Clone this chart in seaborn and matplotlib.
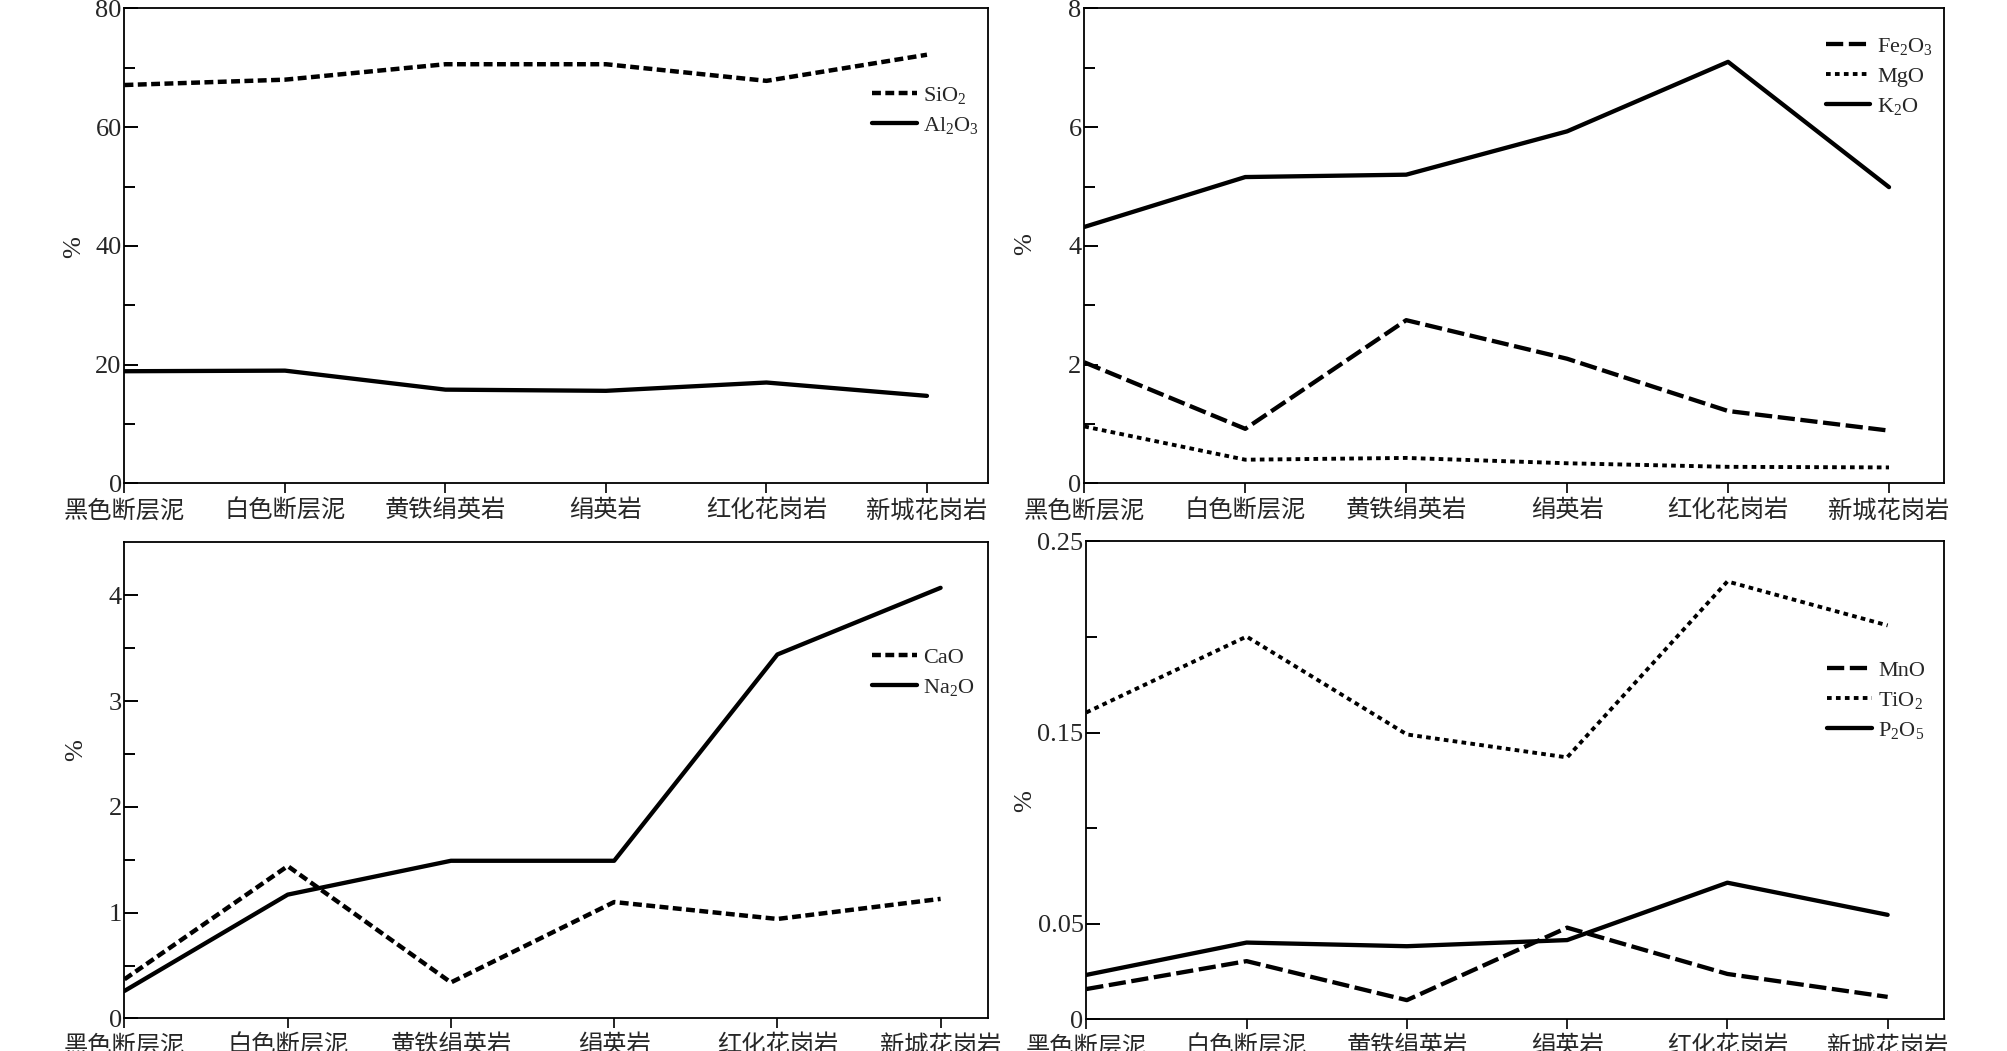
import matplotlib
matplotlib.use("Agg")
import matplotlib.pyplot as plt
import seaborn as sns
import pandas as pd
from matplotlib.ticker import FixedLocator

# ---------------- data ----------------
categories = ["黑色断层泥", "白色断层泥", "黄铁绢英岩", "绢英岩", "红化花岗岩", "新城花岗岩"]

sio2 = [67.1, 68.0, 70.6, 70.6, 67.8, 72.2]
al2o3 = [18.9, 19.0, 15.8, 15.6, 17.0, 14.75]

fe2o3 = [2.04, 0.92, 2.75, 2.10, 1.22, 0.89]
mgo = [0.96, 0.40, 0.43, 0.34, 0.28, 0.27]
k2o = [4.32, 5.16, 5.20, 5.93, 7.10, 4.99]

cao = [0.37, 1.44, 0.34, 1.10, 0.94, 1.13]
na2o = [0.26, 1.17, 1.49, 1.49, 3.44, 4.07]

mno = [0.0159, 0.0305, 0.0101, 0.048, 0.0238, 0.0118]
tio2 = [0.1605, 0.2002, 0.149, 0.137, 0.229, 0.206]
p2o5 = [0.0233, 0.0402, 0.0383, 0.0415, 0.0715, 0.0547]

tl_yticks = [0, 20, 40, 60, 80]
tl_yticklabels = ["0", "20", "40", "60", "80"]
tr_yticks = [0, 2, 4, 6, 8]
tr_yticklabels = ["0", "2", "4", "6", "8"]
bl_yticks = [0, 1, 2, 3, 4]
bl_yticklabels = ["0", "1", "2", "3", "4"]
br_yticks = [0, 0.05, 0.15, 0.25]
br_yticklabels = ["0", "0.05", "0.15", "0.25"]
ylabel = "%"

# ---------------- style ----------------
sns.set_theme(style="ticks")
plt.rcParams["font.family"] = ["Liberation Serif", "Noto Sans CJK SC", "DejaVu Sans"]
plt.rcParams["mathtext.fontset"] = "custom"
plt.rcParams["mathtext.rm"] = "Liberation Serif"
plt.rcParams["mathtext.it"] = "Liberation Serif"
plt.rcParams["mathtext.default"] = "rm"

fig = plt.figure(figsize=(20.08, 10.51), dpi=100)
fig.patch.set_facecolor("white")

LW = 3.1
SQ_DOT = (0, (2.0, 1.0))      # SiO2 / CaO short square dashes
FINE_DOT = (0, (1.2, 1.1))    # MgO / TiO2 fine dots
LONG_DASH = (0, (4.0, 1.3))   # Fe2O3 / MnO long dashes
SOLID = "-"

panels = [
    dict(rect=[0.062, 0.540, 0.430, 0.452], xmax=5.38, ylim=(0, 80),
         yticks=tl_yticks, ylabels=tl_yticklabels, minor=[10, 30, 50, 70],
         series=[("SiO$_2$", sio2, SQ_DOT, 3.2), ("Al$_2$O$_3$", al2o3, SOLID, LW)],
         leg=(0.866, 0.785), ylab=(-0.046, 0.497)),
    dict(rect=[0.540, 0.540, 0.428, 0.452], xmax=5.34, ylim=(0, 8),
         yticks=tr_yticks, ylabels=tr_yticklabels, minor=[1, 3, 5, 7],
         series=[("Fe$_2$O$_3$", fe2o3, LONG_DASH, LW), ("MgO", mgo, FINE_DOT, 2.8),
                 ("K$_2$O", k2o, SOLID, LW)],
         leg=(0.863, 0.857), ylab=(-0.056, 0.503)),
    dict(rect=[0.062, 0.031, 0.430, 0.453], xmax=5.29, ylim=(0, 4.5),
         yticks=bl_yticks, ylabels=bl_yticklabels, minor=[0.5, 1.5, 2.5, 3.5],
         series=[("CaO", cao, SQ_DOT, 3.2), ("Na$_2$O", na2o, SOLID, LW)],
         leg=(0.866, 0.727), ylab=(-0.043, 0.563)),
    dict(rect=[0.541, 0.030, 0.427, 0.455], xmax=5.35, ylim=(0, 0.25),
         yticks=br_yticks, ylabels=br_yticklabels, minor=[0.1, 0.2],
         series=[("MnO", mno, LONG_DASH, LW), ("TiO$_2$", tio2, FINE_DOT, 2.8),
                 ("P$_2$O$_5$", p2o5, SOLID, LW)],
         leg=(0.864, 0.667), ylab=(-0.058, 0.456)),
]

for p in panels:
    ax = fig.add_axes(p["rect"])
    ax.set_facecolor("white")
    for name, vals, ls, lw in p["series"]:
        df = pd.DataFrame({"x": categories, "y": vals})
        sns.lineplot(data=df, x="x", y="y", ax=ax, color="black",
                     linestyle=ls, linewidth=lw, label=name, sort=False)
    ax.set_xlim(0, p["xmax"])
    ax.set_ylim(*p["ylim"])
    ax.set_xticks(range(len(categories)))
    ax.set_xticklabels(categories, fontsize=17.5, family=["Noto Sans CJK SC"])
    ax.set_yticks(p["yticks"])
    ax.set_yticklabels(p["ylabels"], fontsize=19)
    ax.yaxis.set_minor_locator(FixedLocator(p["minor"]))
    ax.tick_params(axis="x", direction="out", length=7, width=1.2, pad=3, color="black")
    ax.tick_params(axis="y", which="major", direction="in", length=10, width=1.4, pad=2, color="black")
    ax.tick_params(axis="y", which="minor", direction="in", length=8, width=1.4, color="black")
    ax.tick_params(axis="x", which="minor", bottom=False)
    for s in ax.spines.values():
        s.set_visible(True)
        s.set_color("black")
        s.set_linewidth(1.3)
    ax.set_xlabel("")
    ax.set_ylabel(ylabel, fontsize=19)
    ax.yaxis.set_label_coords(*p["ylab"])
    ax.legend(loc="center left", bbox_to_anchor=p["leg"], frameon=False,
              fontsize=16, handlelength=2.0, handletextpad=0.3,
              labelspacing=0.4, borderpad=0, borderaxespad=0)

fig.savefig("out.png", dpi=100, facecolor="white")
